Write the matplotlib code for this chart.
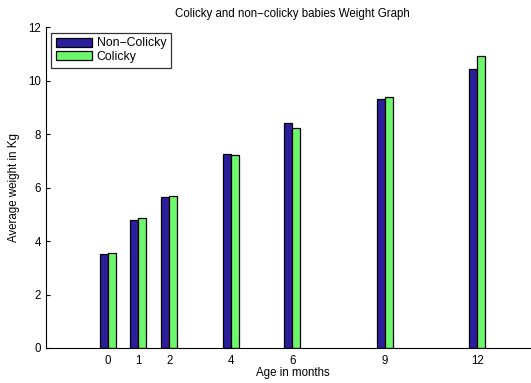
import numpy as np
import matplotlib
matplotlib.use("Agg")
import matplotlib.pyplot as plt

plt.rcParams['font.family'] = ['Liberation Sans', 'DejaVu Sans']

# Data
ages = [0, 1, 2, 4, 6, 9, 12]
non_colicky = [3.50, 4.80, 5.65, 7.25, 8.43, 9.31, 10.43]
colicky = [3.55, 4.85, 5.68, 7.22, 8.23, 9.39, 10.93]

fig = plt.figure(figsize=(5.31, 3.83), dpi=100)
ax = fig.add_axes([0.0866, 0.0914, 0.928, 0.838])

x = np.array(ages, dtype=float)
w = 0.26
ax.bar(x, non_colicky, width=-w, align='edge', color='#2C1F9E',
       edgecolor='black', linewidth=0.9, label='Non\u2212Colicky')
ax.bar(x, colicky, width=w, align='edge', color='#6CF76C',
       edgecolor='black', linewidth=0.9, label='Colicky')

ax.set_xlim(-2, 14)
ax.set_ylim(0, 12)
ax.set_xticks(ages)
ax.set_yticks([0, 2, 4, 6, 8, 10, 12])
ax.tick_params(direction='in', length=3, labelsize=8.3, width=0.8)
ax.tick_params(axis='x', pad=5)
ax.spines['top'].set_visible(False)
ax.spines['right'].set_visible(False)
ax.spines['left'].set_linewidth(0.8)
ax.spines['bottom'].set_linewidth(0.8)

ax.set_title('Colicky and non\u2212colicky babies Weight Graph', fontsize=8.3, pad=7)
ax.set_xlabel('Age in months', fontsize=8.3, labelpad=0)
ax.set_ylabel('Average weight in Kg', fontsize=8.3, labelpad=6)

leg = ax.legend(loc='upper left', fontsize=8.8, frameon=True, fancybox=False,
                handlelength=2.95, handleheight=0.76, borderpad=0.4,
                labelspacing=0.12, handletextpad=0.35, borderaxespad=0.45)
leg.get_frame().set_edgecolor('black')
leg.get_frame().set_linewidth(0.9)

fig.savefig('out.png', dpi=100)
